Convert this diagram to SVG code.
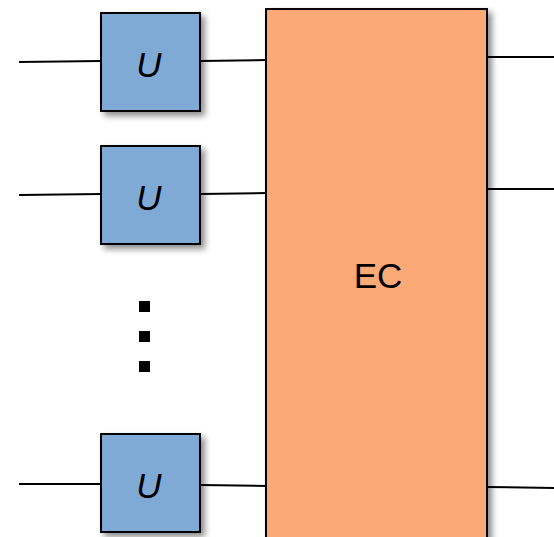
<svg xmlns="http://www.w3.org/2000/svg" width="554" height="537" viewBox="0 0 554 537">
<defs>
<filter id="sh" x="-20%" y="-20%" width="150%" height="150%">
<feGaussianBlur in="SourceAlpha" stdDeviation="3"/>
<feOffset dx="4" dy="4" result="b"/>
<feComponentTransfer><feFuncA type="linear" slope="0.45"/></feComponentTransfer>
<feMerge><feMergeNode/><feMergeNode in="SourceGraphic"/></feMerge>
</filter>
<style>
.u{fill:#7FAAD6;stroke:#000;stroke-width:2}
.ec{fill:#FCA978;stroke:#000;stroke-width:2}
.w{stroke:#000;stroke-width:2;fill:none}
.t{font-family:"Liberation Sans",Arial,sans-serif;font-size:35px;fill:#000;text-anchor:middle}
</style>
</defs>
<rect width="554" height="537" fill="#fff"/>
<g id="connectors">
<line class="w" x1="19" y1="62" x2="101" y2="61"/>
<line class="w" x1="200" y1="61" x2="266" y2="60"/>
<line class="w" x1="19" y1="195" x2="101" y2="194"/>
<line class="w" x1="200" y1="194" x2="266" y2="193"/>
<line class="w" x1="19" y1="484" x2="101" y2="484"/>
<line class="w" x1="200" y1="485" x2="266" y2="486"/>
<line class="w" x1="487" y1="57" x2="554" y2="57"/>
<line class="w" x1="487" y1="189" x2="554" y2="189"/>
<line class="w" x1="487" y1="487" x2="554" y2="488"/>
</g>
<g id="ec">
<rect class="ec" x="266" y="9" width="221" height="540" filter="url(#sh)"/>
<text class="t" x="378" y="288">EC</text>
</g>
<g id="u1">
<rect class="u" x="101" y="13" width="99" height="98" filter="url(#sh)"/>
<text class="t" x="149" y="77" font-style="italic">U</text>
</g>
<g id="u2">
<rect class="u" x="101" y="146" width="99" height="98" filter="url(#sh)"/>
<text class="t" x="149" y="210" font-style="italic">U</text>
</g>
<g id="u3">
<rect class="u" x="101" y="434" width="99" height="98" filter="url(#sh)"/>
<text class="t" x="149" y="498" font-style="italic">U</text>
</g>
<g id="dots">
<rect x="139" y="301" width="11" height="11" fill="#000"/>
<rect x="139" y="331" width="11" height="11" fill="#000"/>
<rect x="139" y="361" width="11" height="11" fill="#000"/>
</g>
</svg>
